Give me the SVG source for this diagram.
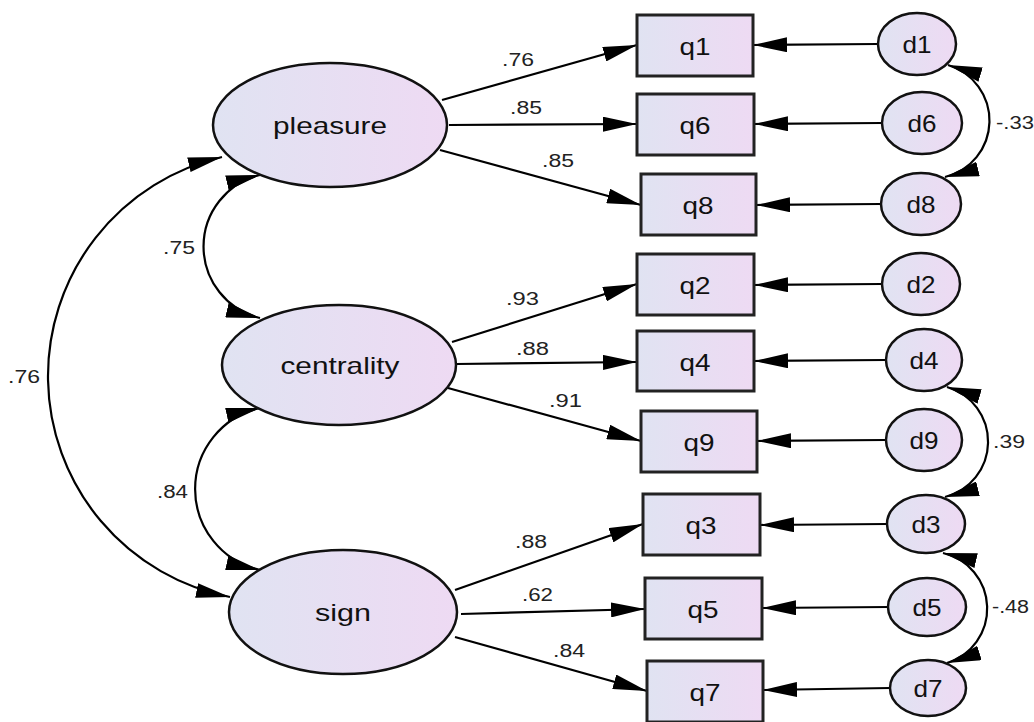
<svg xmlns="http://www.w3.org/2000/svg" width="1034" height="722" viewBox="0 0 1034 722">
<style>
.node{fill:url(#fillg);stroke:#111;stroke-width:2.5}
.box{fill:url(#fillg);stroke:#222;stroke-width:3}
.nl{font-family:"Liberation Sans",Arial,sans-serif;font-size:24px;fill:#111;text-anchor:middle}
.el{font-family:"Liberation Sans",Arial,sans-serif;font-size:18px;fill:#222}
.c{fill:none;stroke:#000;stroke-width:2.2}
.a{marker-end:url(#ah)}
.b{marker-start:url(#ah);marker-end:url(#ah)}
</style>
<defs>
<linearGradient id="fillg" x1="0" y1="0" x2="1" y2="0">
<stop offset="0" stop-color="#e0e3f2"/>
<stop offset="1" stop-color="#eedaf3"/>
</linearGradient>
<marker id="ah" markerUnits="userSpaceOnUse" markerWidth="34" markerHeight="15" refX="34" refY="7.5" orient="auto-start-reverse" viewBox="0 0 34 15">
<path d="M0,0 L34,7.5 L0,15 z" fill="#000"/>
</marker>
</defs>
<rect width="1034" height="722" fill="#fff"/>
<g id="connectors">
<line class="c a" x1="442" y1="100" x2="637" y2="45"/>
<line class="c a" x1="449" y1="125" x2="637" y2="124"/>
<line class="c a" x1="440" y1="150" x2="641" y2="205"/>
<line class="c a" x1="452" y1="342" x2="637" y2="284"/>
<line class="c a" x1="456" y1="364" x2="637" y2="362"/>
<line class="c a" x1="448" y1="388" x2="641" y2="441"/>
<line class="c a" x1="455" y1="590" x2="643" y2="524"/>
<line class="c a" x1="461" y1="614" x2="645" y2="609"/>
<line class="c a" x1="455" y1="637" x2="647" y2="691"/>
<line class="c a" x1="878" y1="44" x2="753" y2="45"/>
<line class="c a" x1="882" y1="123" x2="754" y2="124"/>
<line class="c a" x1="881" y1="204" x2="756" y2="205"/>
<line class="c a" x1="882" y1="284" x2="754" y2="285"/>
<line class="c a" x1="885" y1="360" x2="754" y2="361"/>
<line class="c a" x1="885" y1="440" x2="757" y2="441"/>
<line class="c a" x1="887" y1="524" x2="760" y2="525"/>
<line class="c a" x1="889" y1="607" x2="762" y2="608"/>
<line class="c a" x1="890" y1="688" x2="763" y2="690"/>
<path class="c b" d="M260,175 A73.5,73.5 0 0 0 260,318"/>
<path class="c b" d="M260,408 A83,83 0 0 0 260,570"/>
<path class="c b" d="M222,157 A225,225 0 0 0 230,597"/>
<path class="c b" d="M948,65 A58,58 0 0 1 945,177"/>
<path class="c b" d="M947,387 A57,57 0 0 1 945,497"/>
<path class="c b" d="M943,553 A57,57 0 0 1 947,663"/>
</g>
<g id="labels">
<text class="el" x="502" y="66" textLength="32" lengthAdjust="spacingAndGlyphs">.76</text>
<text class="el" x="510" y="114" textLength="32" lengthAdjust="spacingAndGlyphs">.85</text>
<text class="el" x="542" y="167" textLength="32" lengthAdjust="spacingAndGlyphs">.85</text>
<text class="el" x="506" y="305" textLength="33" lengthAdjust="spacingAndGlyphs">.93</text>
<text class="el" x="516" y="355" textLength="33" lengthAdjust="spacingAndGlyphs">.88</text>
<text class="el" x="549" y="407" textLength="33" lengthAdjust="spacingAndGlyphs">.91</text>
<text class="el" x="515" y="548" textLength="32" lengthAdjust="spacingAndGlyphs">.88</text>
<text class="el" x="522" y="601" textLength="31" lengthAdjust="spacingAndGlyphs">.62</text>
<text class="el" x="553" y="657" textLength="32" lengthAdjust="spacingAndGlyphs">.84</text>
<text class="el" x="163" y="254" textLength="32" lengthAdjust="spacingAndGlyphs">.75</text>
<text class="el" x="157" y="498" textLength="31" lengthAdjust="spacingAndGlyphs">.84</text>
<text class="el" x="8" y="383" textLength="32" lengthAdjust="spacingAndGlyphs">.76</text>
<text class="el" x="996" y="129" textLength="38" lengthAdjust="spacingAndGlyphs">-.33</text>
<text class="el" x="993" y="448" textLength="32" lengthAdjust="spacingAndGlyphs">.39</text>
<text class="el" x="992" y="613" textLength="37" lengthAdjust="spacingAndGlyphs">-.48</text>
</g>
<g id="pleasure"><ellipse class="node" cx="330" cy="125" rx="117" ry="62"/><text class="nl" x="330" y="134" textLength="114" lengthAdjust="spacingAndGlyphs">pleasure</text></g>
<g id="centrality"><ellipse class="node" cx="339" cy="365" rx="117" ry="60"/><text class="nl" x="340" y="374" textLength="119" lengthAdjust="spacingAndGlyphs">centrality</text></g>
<g id="sign"><ellipse class="node" cx="343" cy="612" rx="114" ry="62"/><text class="nl" x="343" y="621" textLength="56" lengthAdjust="spacingAndGlyphs">sign</text></g>
<g id="q1"><rect class="box" x="637" y="15" width="116" height="61"/><text class="nl" x="695" y="55" textLength="31" lengthAdjust="spacingAndGlyphs">q1</text></g>
<g id="q6"><rect class="box" x="637" y="94" width="117" height="61"/><text class="nl" x="695" y="134" textLength="31" lengthAdjust="spacingAndGlyphs">q6</text></g>
<g id="q8"><rect class="box" x="641" y="174" width="115" height="61"/><text class="nl" x="698" y="214" textLength="31" lengthAdjust="spacingAndGlyphs">q8</text></g>
<g id="q2"><rect class="box" x="637" y="254" width="117" height="61"/><text class="nl" x="695" y="294" textLength="31" lengthAdjust="spacingAndGlyphs">q2</text></g>
<g id="q4"><rect class="box" x="637" y="331" width="117" height="60"/><text class="nl" x="695" y="371" textLength="31" lengthAdjust="spacingAndGlyphs">q4</text></g>
<g id="q9"><rect class="box" x="641" y="411" width="116" height="61"/><text class="nl" x="699" y="451" textLength="31" lengthAdjust="spacingAndGlyphs">q9</text></g>
<g id="q3"><rect class="box" x="643" y="494" width="117" height="61"/><text class="nl" x="701" y="534" textLength="31" lengthAdjust="spacingAndGlyphs">q3</text></g>
<g id="q5"><rect class="box" x="645" y="578" width="117" height="61"/><text class="nl" x="703" y="618" textLength="31" lengthAdjust="spacingAndGlyphs">q5</text></g>
<g id="q7"><rect class="box" x="647" y="661" width="116" height="61"/><text class="nl" x="705" y="701" textLength="31" lengthAdjust="spacingAndGlyphs">q7</text></g>
<g id="d1"><ellipse class="node" cx="917" cy="44" rx="39" ry="31"/><text class="nl" x="917" y="53" textLength="29" lengthAdjust="spacingAndGlyphs">d1</text></g>
<g id="d6"><ellipse class="node" cx="922" cy="123" rx="40" ry="31"/><text class="nl" x="922" y="132" textLength="29" lengthAdjust="spacingAndGlyphs">d6</text></g>
<g id="d8"><ellipse class="node" cx="921" cy="204" rx="40" ry="31"/><text class="nl" x="921" y="213" textLength="29" lengthAdjust="spacingAndGlyphs">d8</text></g>
<g id="d2"><ellipse class="node" cx="921" cy="284" rx="39" ry="31"/><text class="nl" x="921" y="293" textLength="29" lengthAdjust="spacingAndGlyphs">d2</text></g>
<g id="d4"><ellipse class="node" cx="924" cy="360" rx="38" ry="31"/><text class="nl" x="924" y="369" textLength="29" lengthAdjust="spacingAndGlyphs">d4</text></g>
<g id="d9"><ellipse class="node" cx="924" cy="440" rx="38" ry="31"/><text class="nl" x="924" y="449" textLength="29" lengthAdjust="spacingAndGlyphs">d9</text></g>
<g id="d3"><ellipse class="node" cx="926" cy="524" rx="39" ry="29"/><text class="nl" x="926" y="533" textLength="29" lengthAdjust="spacingAndGlyphs">d3</text></g>
<g id="d5"><ellipse class="node" cx="927" cy="607" rx="39" ry="29"/><text class="nl" x="927" y="616" textLength="29" lengthAdjust="spacingAndGlyphs">d5</text></g>
<g id="d7"><ellipse class="node" cx="928" cy="688" rx="38" ry="28"/><text class="nl" x="928" y="697" textLength="29" lengthAdjust="spacingAndGlyphs">d7</text></g>
</svg>
